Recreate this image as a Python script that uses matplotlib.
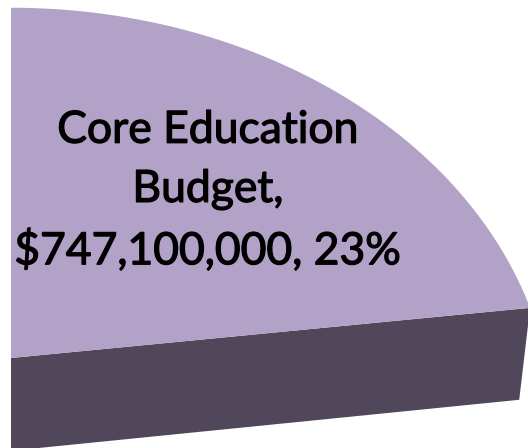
import numpy as np
import matplotlib.pyplot as plt
import matplotlib.patheffects as pe
from matplotlib.patches import Polygon

# slice data
category = "Core Education Budget"
amount = 747100000
share = 0.23
start_angle = 90.0

label = "Core Education\nBudget,\n${:,}, {:.0%}".format(amount, share)

top_color = "#b3a2c8"
side_color = "#51475a"

# simple perspective camera for the 3d pie
focal = 2067.0
dist = 3.87
pitch = np.radians(49.9)
thickness = 0.2755
side_mix = 0.4


def project(x, y, z=0.0):
    zc = dist + y * np.cos(pitch) - z * np.sin(pitch) * side_mix
    up = y * np.sin(pitch) + z * np.cos(pitch)
    return focal * x / zc, focal * up / zc


end_angle = start_angle - share * 360.0
phi = np.radians(np.linspace(start_angle, end_angle, 200))

top_pts = [project(0.0, 0.0)]
top_pts += [project(np.cos(p), np.sin(p)) for p in phi]

a_end = np.radians(end_angle)
side_pts = [project(0.0, 0.0),
            project(np.cos(a_end), np.sin(a_end)),
            project(np.cos(a_end), np.sin(a_end), -thickness),
            project(0.0, 0.0, -thickness)]

fig = plt.figure(figsize=(5.28, 4.48), dpi=100)
ax = fig.add_axes([0, 0, 1, 1])
ax.set_xlim(-11, 517)
ax.set_ylim(-90, 358)
ax.axis("off")

ax.add_patch(Polygon(side_pts, closed=True, facecolor=side_color, edgecolor="none"))
ax.add_patch(Polygon(top_pts, closed=True, facecolor=top_color, edgecolor="none"))

txt = ax.text(197, 167, label, ha="center", va="center", fontsize=32,
              family="Lato", color="black", linespacing=1.55)
txt.set_path_effects([pe.withStroke(linewidth=0.9, foreground="black")])

fig.savefig("out.png", dpi=100)
